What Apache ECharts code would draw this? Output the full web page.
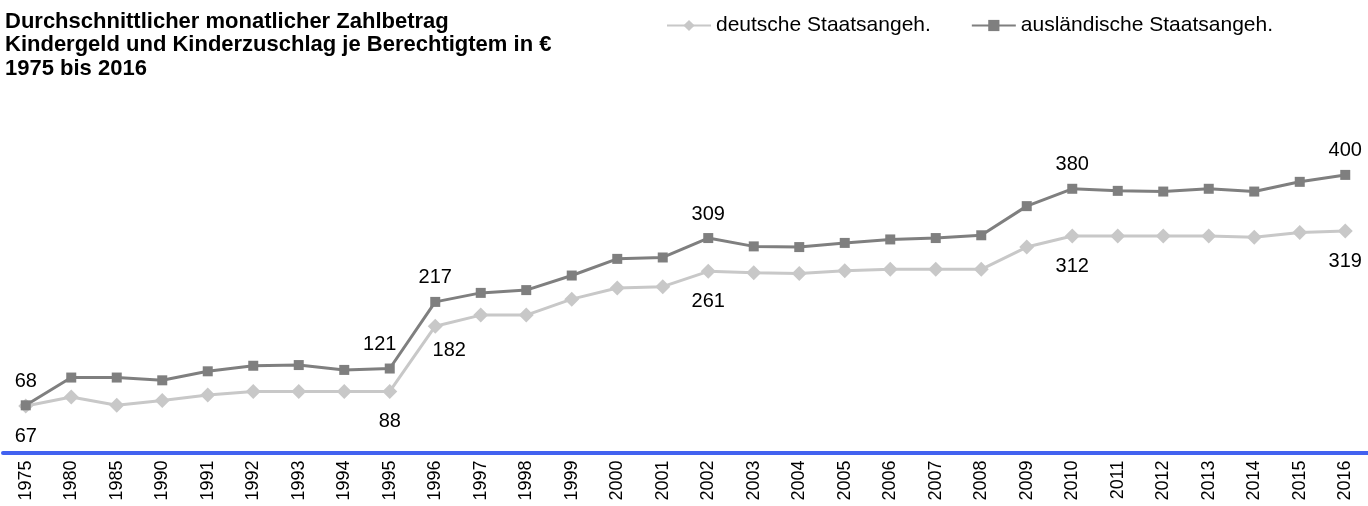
<!DOCTYPE html>
<html>
<head>
<meta charset="utf-8">
<script src="https://cdn.jsdelivr.net/npm/echarts@6/dist/echarts.min.js"></script>
<style>html,body{margin:0;padding:0;background:#fff}#c{width:1368px;height:506px}</style>
</head>
<body>
<div id="c"></div>
<script>
var years = ['1975','1980','1985','1990','1991','1992','1993','1994','1995','1996','1997','1998','1999','2000','2001','2002','2003','2004','2005','2006','2007','2008','2009','2010','2011','2012','2013','2014','2015','2016'];
var deutsche = [67,80,68,75,83,88,88,88,88,182,198,198,221,237,239,261,259,258,262,264,264,264,296,312,312,312,312,310,317,319];
var auslaendische = [68,108,108,104,117,125,126,119,121,217,230,234,255,279,281,309,297,296,302,307,309,313,355,380,377,376,380,376,390,400];
var labeledIdx = [0,8,9,15,23,29];
var seriesNames = ['deutsche Staatsangeh.','ausländische Staatsangeh.'];
var titleText = 'Durchschnittlicher monatlicher Zahlbetrag\nKindergeld und Kinderzuschlag je Berechtigtem in €\n1975 bis 2016';

var FONT = 'Liberation Sans, Arial, sans-serif';
var labelOffsetD = {9: [14, -6]};
var labelOffsetA = {8: [-10, 0]};

function build(values, pos, dist, offsets) {
  return values.map(function (v, i) {
    var item = { value: v };
    if (labeledIdx.indexOf(i) >= 0) {
      item.label = { show: true, position: pos, distance: dist, offset: offsets[i] || [0, 0] };
    }
    return item;
  });
}

var chart = echarts.init(document.getElementById('c'));
chart.setOption({
  animation: false,
  backgroundColor: '#ffffff',
  title: {
    text: titleText,
    left: 0, top: 5,
    textStyle: { fontFamily: FONT, fontSize: 22, fontWeight: 'bold', color: '#000', lineHeight: 23.5 }
  },
  legend: {
    left: 661, top: 10,
    itemWidth: 44, itemHeight: 14, itemGap: 40,
    textStyle: { fontFamily: FONT, fontSize: 21, color: '#000' },
    data: seriesNames
  },
  grid: { left: 3, width: 1366, top: 105.5, bottom: 53.5, containLabel: false },
  xAxis: {
    type: 'category',
    data: years,
    boundaryGap: true,
    axisLine: { show: true, lineStyle: { color: '#4262F0', width: 4 } },
    axisTick: { show: false },
    axisLabel: { rotate: 90, margin: 8, fontFamily: FONT, fontSize: 18, color: '#000', interval: 0 },
    splitLine: { show: false }
  },
  yAxis: { type: 'value', min: 0, max: 500, show: false, splitLine: { show: false } },
  series: [
    {
      name: seriesNames[0], type: 'line',
      data: build(deutsche, 'bottom', 13, labelOffsetD),
      symbol: 'diamond', symbolSize: 15,
      lineStyle: { color: '#C8C8C8', width: 3 },
      itemStyle: { color: '#C8C8C8' },
      label: { fontFamily: FONT, fontSize: 20, color: '#000' }
    },
    {
      name: seriesNames[1], type: 'line',
      data: build(auslaendische, 'top', 9, labelOffsetA),
      symbol: 'rect', symbolSize: 10,
      lineStyle: { color: '#7F7F7F', width: 3 },
      itemStyle: { color: '#7F7F7F' },
      label: { fontFamily: FONT, fontSize: 20, color: '#000' }
    }
  ]
});
</script>
</body>
</html>
